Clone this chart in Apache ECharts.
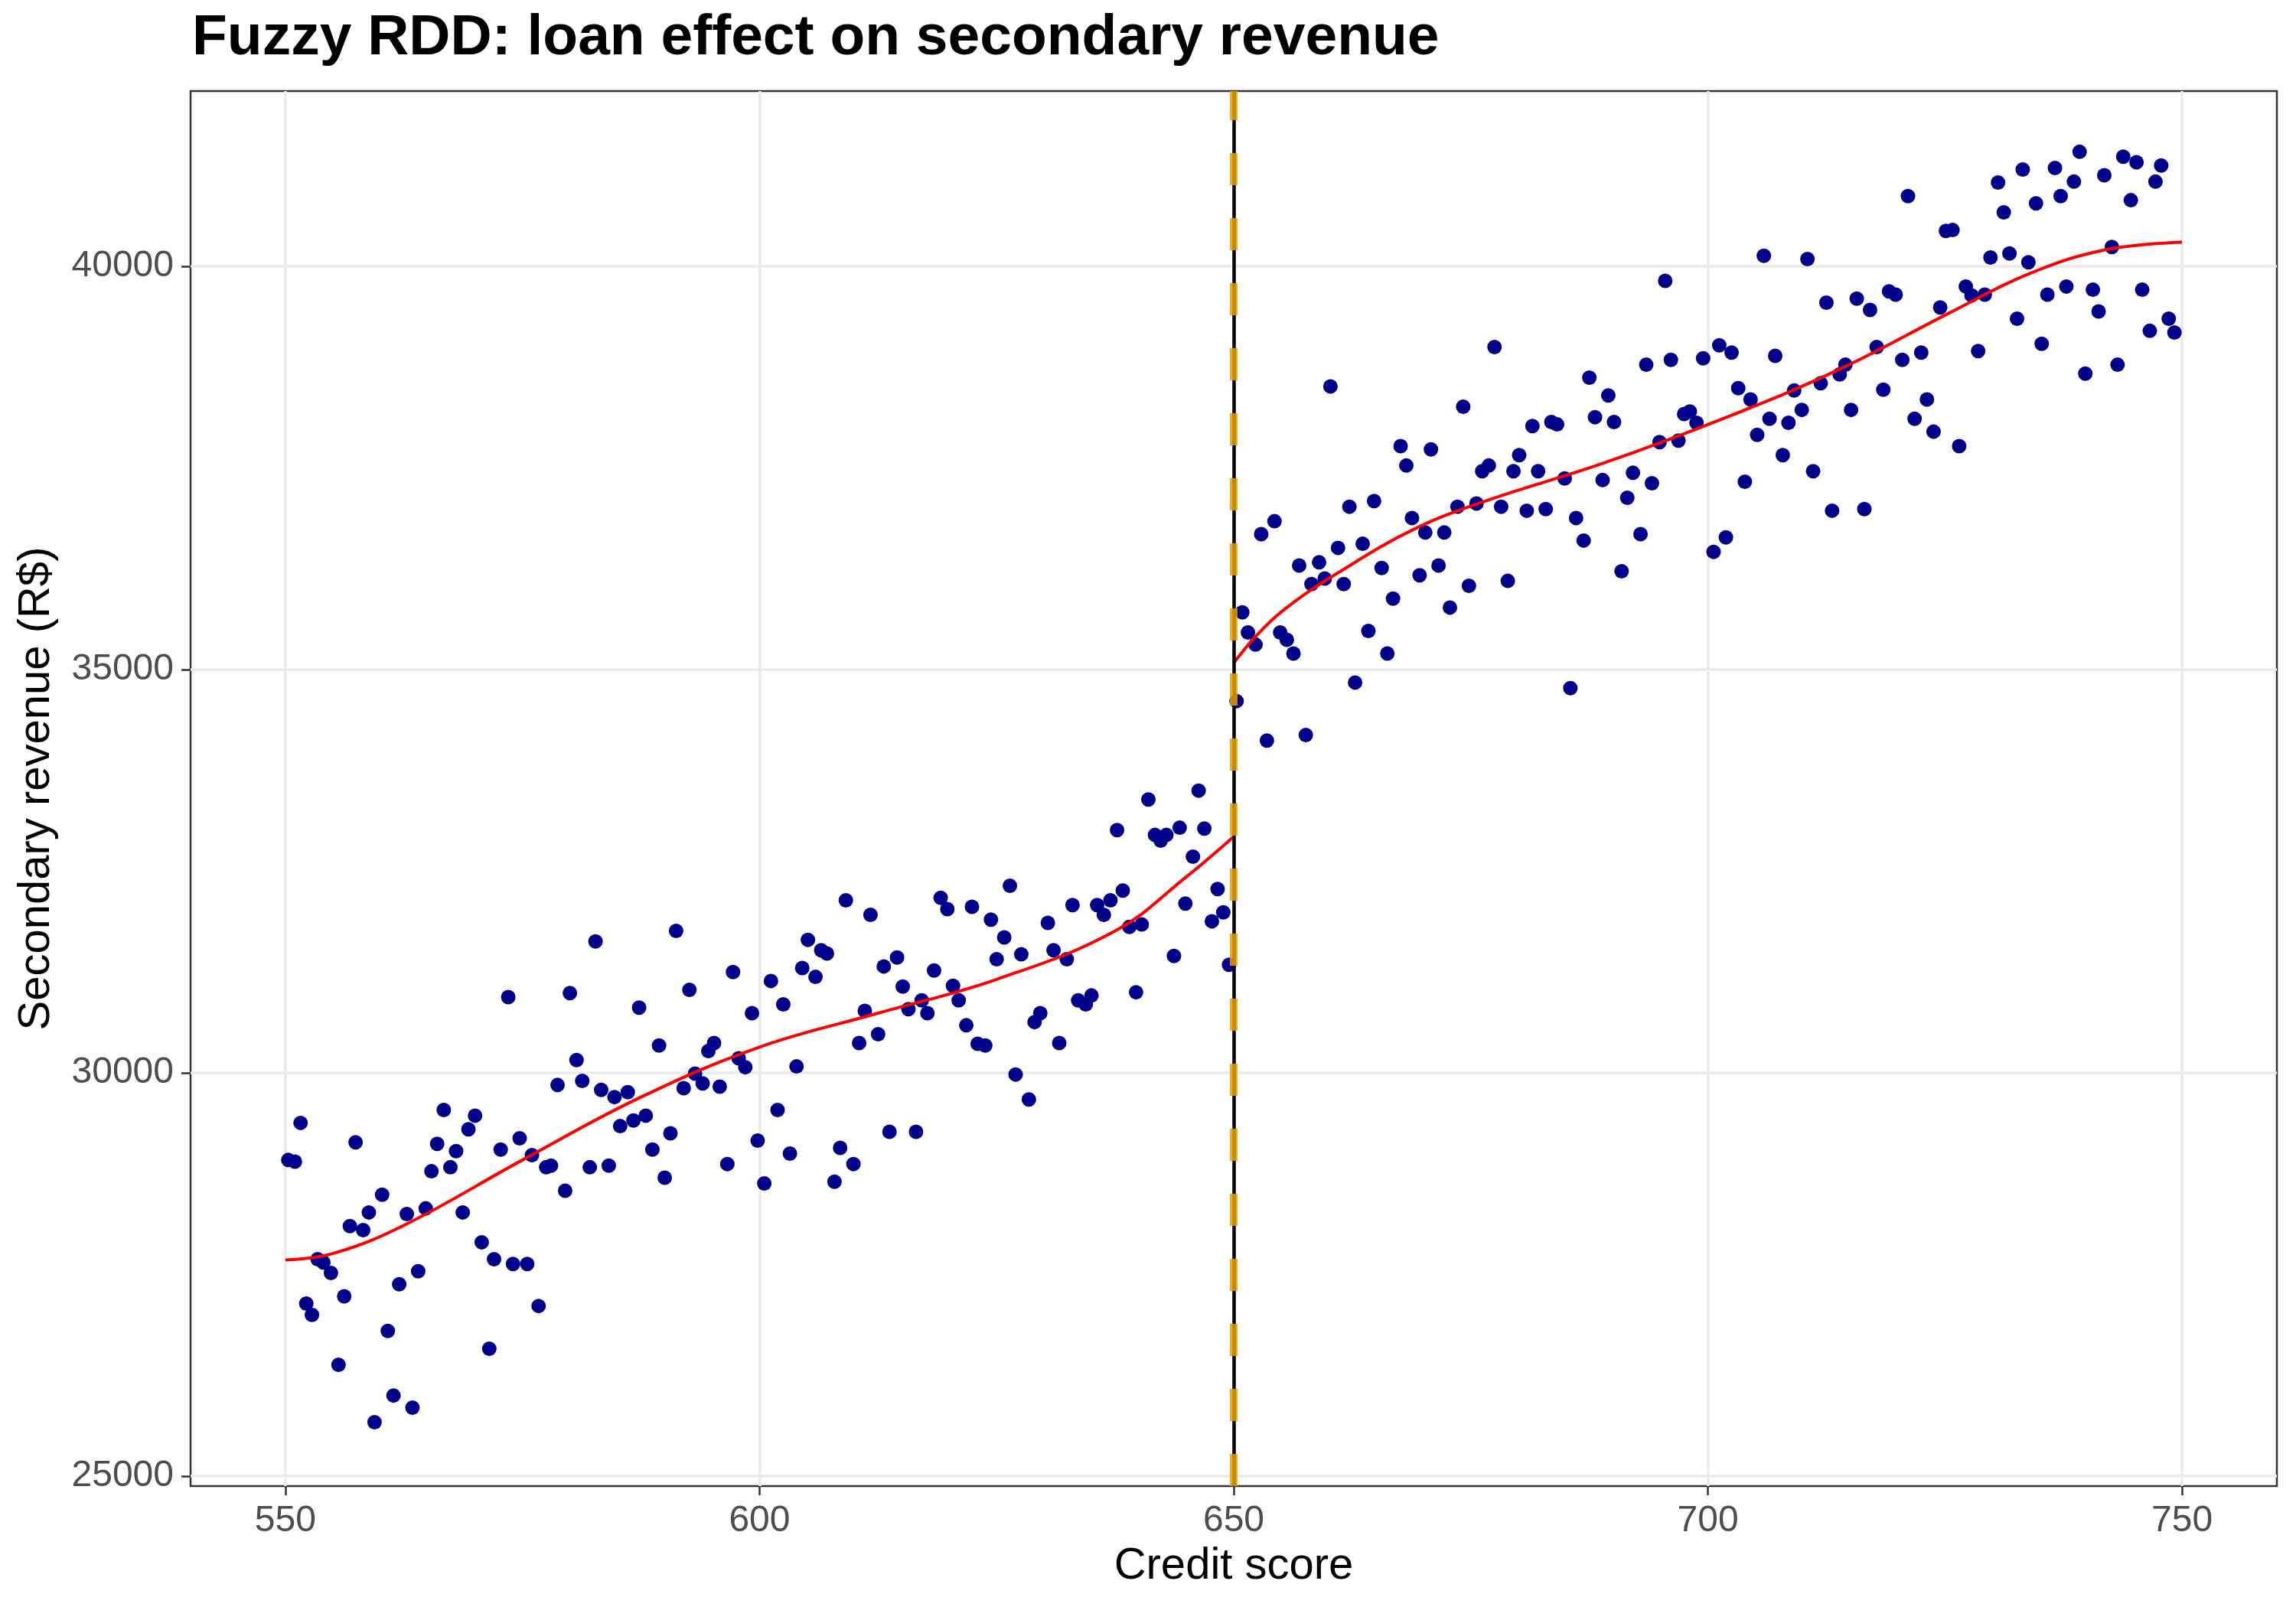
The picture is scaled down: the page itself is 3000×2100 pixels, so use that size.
<!DOCTYPE html>
<html>
<head>
<meta charset="utf-8">
<script src="https://cdn.jsdelivr.net/npm/echarts@6/dist/echarts.min.js"></script>
<style>
html,body{margin:0;padding:0;background:#fff;}
#chart{width:3000px;height:2100px;}
</style>
</head>
<body>
<div id="chart"></div>
<script>
const scores = [
550.3,551,551.6,552.2,552.8,553.4,554,554.8,555.6,556.2,
556.8,557.4,558.2,558.8,559.4,560.2,560.8,561.4,562,562.8,
563.4,564,564.8,565.4,566,566.7,567.4,568,568.7,569.3,
570,570.7,571.5,572,572.7,573.5,574,574.7,575.5,576,
576.7,577.5,578,578.7,579.5,580,580.7,581.3,582.1,582.7,
583.3,584.1,584.7,585.3,586.1,586.7,587.3,588,588.7,589.4,
590,590.6,591.2,592,592.6,593.2,594,594.6,595.2,595.8,
596.6,597.2,597.8,598.5,599.2,599.8,600.5,601.2,601.9,602.5,
603.2,603.9,604.5,605.1,605.9,606.5,607.1,607.9,608.5,609.1,
609.9,610.5,611.1,611.7,612.5,613.1,613.7,614.5,615.1,615.7,
616.5,617.1,617.7,618.4,619.1,619.8,620.4,621,621.8,622.4,
623,623.8,624.4,625,625.8,626.4,627,627.6,628.4,629,
629.6,630.4,631,631.6,632.4,633,633.6,634.4,635,635.6,
636.3,637,637.7,638.3,639,639.7,640.3,641,641.7,642.3,
642.9,643.7,644.3,644.9,645.7,646.3,646.9,647.7,648.3,648.9,
649.5,
650.3,650.9,651.5,652.3,652.9,653.5,654.3,654.9,655.6,656.3,
656.9,657.6,658.2,659,659.6,660.2,661,661.6,662.2,662.8,
663.6,664.2,664.8,665.6,666.2,666.8,667.6,668.2,668.8,669.6,
670.2,670.8,671.6,672.2,672.8,673.6,674.2,674.8,675.6,676.2,
676.9,677.5,678.2,678.9,679.5,680.1,680.9,681.5,682.1,682.9,
683.5,684.1,684.9,685.5,686.1,686.9,687.5,688.1,688.9,689.5,
690.1,690.9,691.5,692.1,692.9,693.5,694.1,694.9,695.5,696.1,
696.9,697.5,698.1,698.8,699.5,700.6,701.2,701.9,702.5,703.2,
703.9,704.5,705.2,705.9,706.5,707.1,707.9,708.5,709.1,709.9,
710.5,711.1,711.9,712.5,713.1,713.9,714.5,715.1,715.7,716.5,
717.1,717.8,718.5,719.1,719.8,720.5,721.1,721.8,722.5,723.1,
723.8,724.5,725.1,725.8,726.5,727.2,727.8,728.5,729.2,729.8,
730.6,731.2,731.8,732.6,733.2,733.8,734.6,735.2,735.8,736.6,
737.2,737.8,738.6,739.2,739.8,740.6,741.2,741.8,742.6,743.2,
743.8,744.6,745.2,745.8,746.6,747.2,747.8,748.6,749.2
];
const revenue = [
28920,28900,29380,27140,27000,27690,27650,27520,26380,27230,
28100,29140,28050,28270,25670,28490,26800,26000,27380,28250,
25850,27540,28320,28780,29120,29540,28830,29030,28270,29300,
29470,27900,26580,27690,29050,30940,27630,29190,27630,28980,
27110,28830,28850,29850,28540,30990,30160,29900,28830,31630,
29790,28850,29700,29340,29760,29410,30810,29470,29050,30340,
28700,29250,31760,29810,31030,29990,29870,30270,30370,29830,
28870,31250,30180,30070,30740,29160,28630,31140,29540,30850,
29000,30080,31300,31650,31190,31520,31480,28650,29070,32140,
28870,30370,30770,31960,30480,31320,29270,31430,31070,30790,
29270,30900,30740,31270,32170,32030,31080,30900,30590,32060,
30360,30340,31900,31410,31680,32320,29980,31470,29670,30630,
30740,31860,31520,30370,31410,32080,30900,30850,30960,32080,
31960,32140,33010,32260,31810,31000,31840,33390,32950,32880,
32950,31450,33040,32100,32680,33500,33030,31880,32280,31990,
31340,
34610,35710,35460,35310,36680,34120,36840,35460,35370,35200,
36290,34190,36060,36330,36130,38510,36510,36060,37020,34840,
36560,35480,37090,36260,35200,35880,37770,37530,36880,36170,
36700,37730,36290,36700,35770,37020,38260,36040,37060,37460,
37530,39000,37020,36100,37460,37660,36970,38020,37460,36990,
38070,38040,37370,34770,36880,36600,38620,38130,37350,38400,
38070,36220,37130,37440,36680,38780,37310,37820,39820,38840,
37840,38170,38200,38060,38860,36460,39020,36640,38930,38490,
37330,38350,37910,40130,38110,38890,37660,38060,38460,38220,
40090,37460,38550,39550,36970,38660,38780,38220,39600,36990,
39460,39000,38470,39690,39650,38840,40870,38110,38930,38350,
37950,39490,40440,40450,37770,39750,39640,38950,39650,40110,
41040,40670,40160,39350,41200,40050,40780,39040,39650,41220,
40870,39750,41050,41420,38670,39710,39440,41130,40240,38780,
41360,40820,41290,39710,39200,41050,41250,39350,39180
];
const fitLeftX = [550, 555, 562.5, 575, 587.5, 600, 612.5, 625, 637.5, 645, 650];
const fitLeftY = [27680, 27760, 28110, 28920, 29700, 30320, 30740, 31160, 31760, 32430, 32930];
const fitRightX = [650, 652.3, 655.5, 661, 669, 676.8, 689, 702, 714, 725.6, 733.7, 741.7, 750];
const fitRightY = [35080, 35410, 35760, 36200, 36740, 37100, 37560, 38130, 38730, 39430, 39900, 40200, 40300];
const cutoff = 650;
const xTicks = [550, 600, 650, 700, 750];
const yTicks = [25000, 30000, 35000, 40000];

const FONT = 'Liberation Sans';
const chart = echarts.init(document.getElementById('chart'), null, {renderer: 'canvas'});
const pts = scores.map((x, i) => [x, revenue[i]]);
const fitL = fitLeftX.map((x, i) => [x, fitLeftY[i]]);
const fitR = fitRightX.map((x, i) => [x, fitRightY[i]]);

chart.setOption({
  backgroundColor: '#ffffff',
  animation: false,
  title: {
    text: 'Fuzzy RDD: loan effect on secondary revenue',
    left: 246, top: 8,
    textStyle: {fontFamily: FONT, fontSize: 75, fontWeight: 'bold', color: '#000000'}
  },
  grid: {
    left: 249, right: 25, top: 119, bottom: 158,
    show: true, borderColor: '#333333', borderWidth: 2.5, backgroundColor: '#ffffff'
  },
  xAxis: {
    type: 'value', min: 540, max: 760,
    name: 'Credit score', nameLocation: 'middle', nameGap: 76,
    nameTextStyle: {fontFamily: FONT, fontSize: 58, color: '#000000'},
    axisLine: {show: false},
    axisTick: {show: true, length: 12, customValues: xTicks, lineStyle: {color: '#333333', width: 2.5}},
    axisLabel: {customValues: xTicks, margin: 22, fontFamily: FONT, fontSize: 48, color: '#4D4D4D',
      formatter: v => String(v)},
    splitLine: {show: true, lineStyle: {color: '#EBEBEB', width: 3.5}}
  },
  yAxis: {
    type: 'value', min: 24877, max: 42173,
    name: 'Secondary revenue (R$)', nameLocation: 'middle', nameGap: 172,
    nameTextStyle: {fontFamily: FONT, fontSize: 58, color: '#000000'},
    axisLine: {show: false},
    axisTick: {show: true, length: 12, customValues: yTicks, lineStyle: {color: '#333333', width: 2.5}},
    axisLabel: {customValues: yTicks, margin: 22, fontFamily: FONT, fontSize: 48, color: '#4D4D4D',
      formatter: v => String(v)},
    splitLine: {show: true, lineStyle: {color: '#EBEBEB', width: 3.5}}
  },
  series: [
    {
      type: 'scatter', data: pts, symbolSize: 19,
      itemStyle: {color: '#00008B', opacity: 1}, z: 2
    },
    {
      type: 'line', data: fitL, smooth: 0.4, showSymbol: false,
      lineStyle: {color: '#FF0000', width: 4}, z: 3
    },
    {
      type: 'line', data: fitR, smooth: 0.4, showSymbol: false,
      lineStyle: {color: '#FF0000', width: 4}, z: 3
    },
    {
      type: 'line', data: [], z: 4,
      markLine: {
        silent: true, symbol: ['none', 'none'], label: {show: false},
        lineStyle: {color: '#000000', width: 4.5, type: 'solid'},
        data: [{xAxis: cutoff}]
      }
    },
    {
      type: 'line', data: [], z: 5,
      markLine: {
        silent: true, symbol: ['none', 'none'], label: {show: false},
        lineStyle: {color: '#E69F00', width: 10, type: [42, 43], opacity: 0.85},
        data: [{xAxis: cutoff}]
      }
    }
  ]
});
</script>
</body>
</html>
